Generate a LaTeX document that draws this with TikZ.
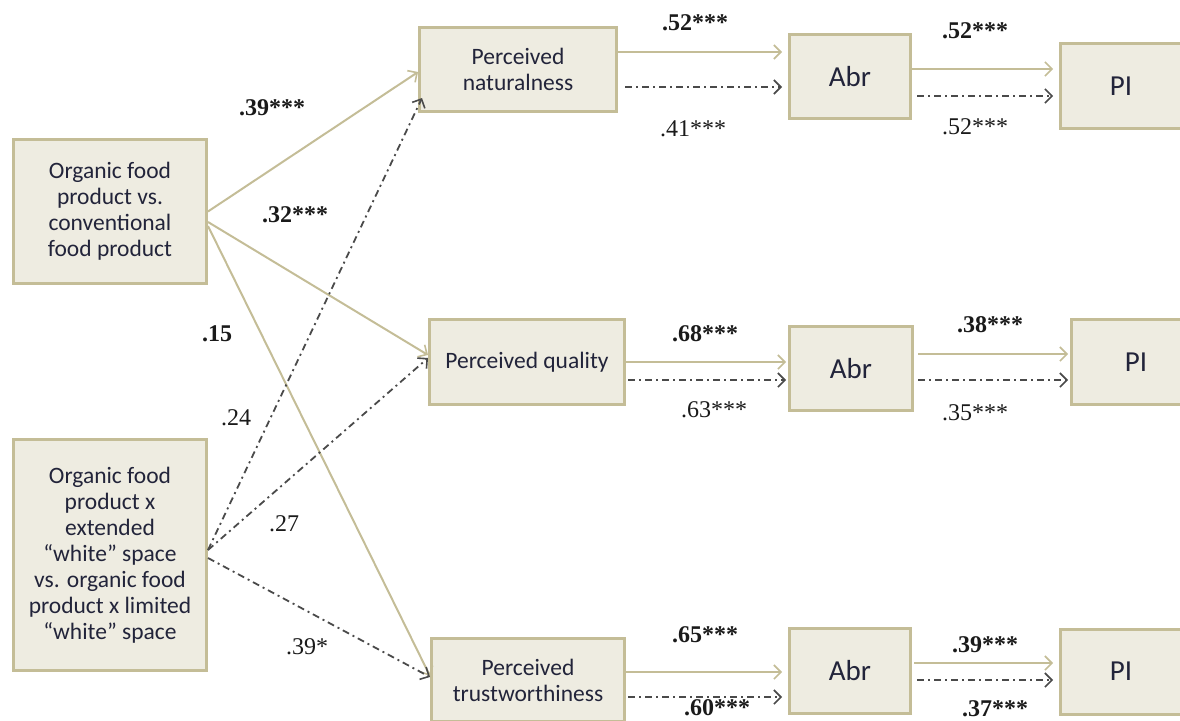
\documentclass[tikz,border=0pt]{standalone}
\usepackage{fontspec}
\setmainfont{Liberation Serif}
\newfontfamily\boxfont{Carlito}
\usetikzlibrary{arrows.meta}
\definecolor{boxfill}{HTML}{EEECE1}
\definecolor{boxline}{HTML}{C4BD97}
\definecolor{boxtext}{HTML}{22243A}
\definecolor{dashcol}{HTML}{4A4A4A}
\definecolor{numcol}{HTML}{1A1A1A}
\tikzset{
  box/.style={draw=boxline, fill=boxfill, line width=3pt, align=center,
    text=boxtext, font=\boxfont\fontsize{23.5}{26}\selectfont, inner sep=0pt},
  bigbox/.style={box, font=\boxfont\fontsize{29}{30}\selectfont},
  solidarr/.style={draw=boxline, line width=2pt,
    -{Straight Barb[length=7pt,width=14pt,line width=1.6pt]}},
  dasharr/.style={draw=dashcol, line width=1.8pt,
    dash pattern=on 7pt off 4pt on 2pt off 4pt,
    -{Straight Barb[length=7pt,width=14pt,line width=1.6pt]}},
  num/.style={text=numcol, font=\fontsize{24}{26}\selectfont, inner sep=0pt},
  bnum/.style={num, font=\bfseries\fontsize{24}{26}\selectfont}
}
\begin{document}
\begin{tikzpicture}[x=1pt,y=-1pt]
\useasboundingbox (0,0) rectangle (1180,720);
\clip (0,0) rectangle (1180,720);
% boxes
\node[box, minimum width=193pt, minimum height=144pt] (A) at (110,211.5) {Organic food\\product vs.\\conventional\\food product};
\node[box, minimum width=193pt, minimum height=231pt] (B) at (110,555) {Organic food\\product x\\extended\\“white” space\\vs. organic food\\product x limited\\“white” space};
\node[box, minimum width=197pt, minimum height=84pt] (N1) at (518,69.5) {Perceived\\naturalness};
\node[box, minimum width=195pt, minimum height=85pt] (Q) at (527,362) {Perceived quality};
\node[box, minimum width=193pt, minimum height=83pt] (T) at (528,680) {Perceived\\trustworthiness};
\node[bigbox, minimum width=121pt, minimum height=84pt] (Abr1) at (850,76.5) {Abr};
\node[bigbox, minimum width=123pt, minimum height=84pt] (Abr2) at (851,368.5) {Abr};
\node[bigbox, minimum width=121pt, minimum height=85pt] (Abr3) at (850,671) {Abr};
\node[bigbox, minimum width=121pt, minimum height=85pt] (PI1) at (1121,86) {PI};
\node[bigbox, minimum width=129pt, minimum height=85pt] (PI2) at (1136,362) {PI};
\node[bigbox, minimum width=121pt, minimum height=85pt] (PI3) at (1121,671.5) {PI};
% left connectors
\draw[solidarr] (A.east) -- ([yshift=-2.5pt]N1.west);
\draw[solidarr] ([yshift=-10.5pt]A.east) -- ([yshift=7pt]Q.west);
\draw[solidarr] ([yshift=-14.5pt]A.east) -- ([yshift=4pt]T.west);
\draw[dasharr] ([yshift=5pt]B.east) -- ([shift={(4pt,15pt)}]N1.south west);
\draw[dasharr] ([yshift=5pt]B.east) -- ([yshift=4pt]Q.west);
\draw[dasharr] ([yshift=-3pt]B.east) -- ([yshift=3pt]T.west);
% row 1
\draw[solidarr] ([yshift=17.5pt]N1.east) -- ([shift={(-6pt,24.5pt)}]Abr1.west);
\draw[dasharr] ([shift={(7pt,-17.5pt)}]N1.east) -- ([shift={(-6pt,-10.5pt)}]Abr1.west);
\draw[solidarr] ([shift={(-2pt,7.5pt)}]Abr1.east) -- ([shift={(-6pt,17pt)}]PI1.west);
\draw[dasharr] ([shift={(5pt,-19.5pt)}]Abr1.east) -- ([shift={(-6pt,-10pt)}]PI1.west);
% row 2
\draw[solidarr] (Q.east) -- ([shift={(-2pt,6.5pt)}]Abr2.west);
\draw[dasharr] ([shift={(2pt,-18pt)}]Q.east) -- ([shift={(-2pt,-11.5pt)}]Abr2.west);
\draw[solidarr] ([shift={(4pt,14.5pt)}]Abr2.east) -- ([shift={(-2pt,8pt)}]PI2.west);
\draw[dasharr] ([shift={(4pt,-11.5pt)}]Abr2.east) -- ([shift={(-2pt,-18pt)}]PI2.west);
% row 3
\draw[solidarr] ([yshift=8pt]T.east) -- ([shift={(-6pt,-1pt)}]Abr3.west);
\draw[dasharr] ([shift={(2pt,-17pt)}]T.east) -- ([shift={(-6pt,-26pt)}]Abr3.west);
\draw[solidarr] ([shift={(2pt,8pt)}]Abr3.east) -- ([shift={(-6pt,8.5pt)}]PI3.west);
\draw[dasharr] ([shift={(5pt,-9pt)}]Abr3.east) -- ([shift={(-6pt,-8.5pt)}]PI3.west);
% labels
\node[bnum] (l1) at (272,108) {.39***};
\node[bnum] (l2) at (295,215) {.32***};
\node[bnum] (l3) at (217,334) {.15};
\node[num] (l4) at (236,418) {.24};
\node[num] (l5) at (284,524) {.27};
\node[num] (l6) at (307,647) {.39*};
\node[bnum] (r1a) at (695,23) {.52***};
\node[num] (r1b) at (693,129) {.41***};
\node[bnum] (r1c) at (975,31) {.52***};
\node[num] (r1d) at (975,127) {.52***};
\node[bnum] (r2a) at (705,334) {.68***};
\node[num] (r2b) at (714,410) {.63***};
\node[bnum] (r2c) at (990,325) {.38***};
\node[num] (r2d) at (975,413) {.35***};
\node[bnum] (r3a) at (705,635) {.65***};
\node[bnum] (r3b) at (717,708) {.60***};
\node[bnum] (r3c) at (985,645) {.39***};
\node[bnum] (r3d) at (995,709) {.37***};
\end{tikzpicture}
\end{document}
